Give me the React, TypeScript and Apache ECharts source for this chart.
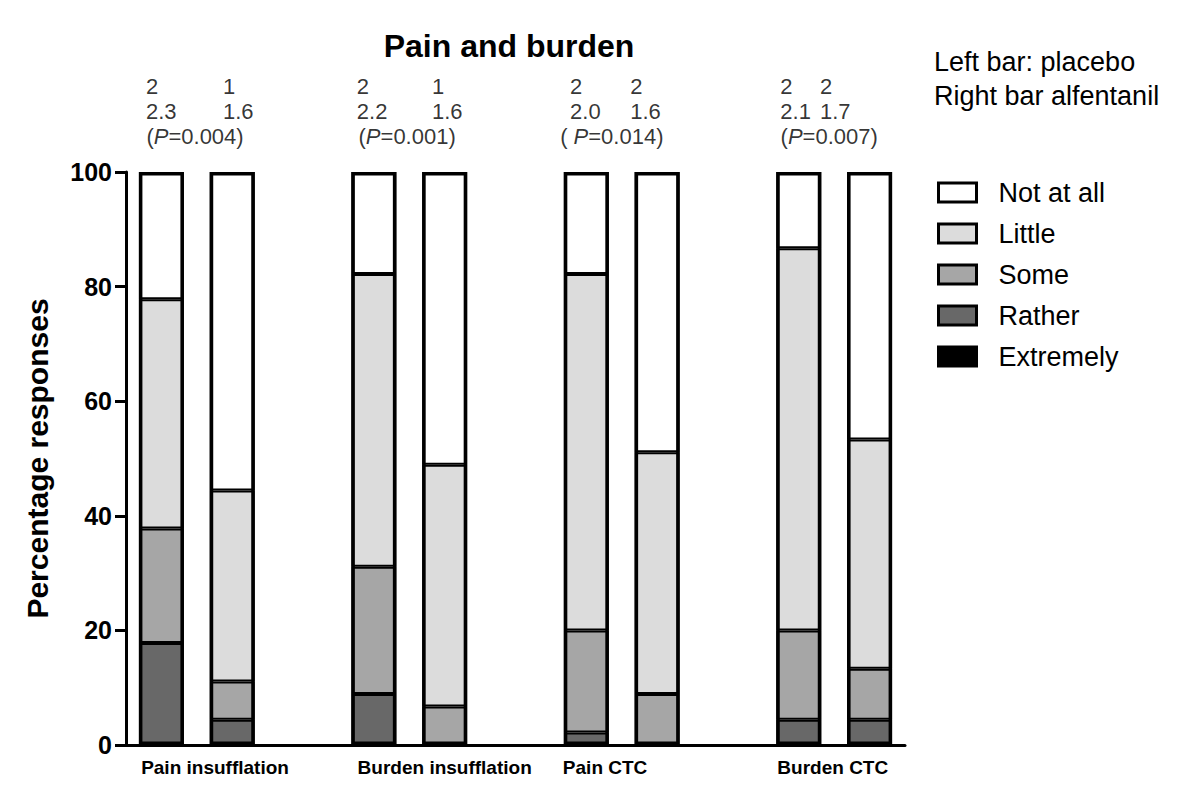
import React, { useEffect, useRef } from 'react';
import * as echarts from 'echarts';

// ---- Data ----
const groupLabels = ['Pain insufflation', 'Burden insufflation', 'Pain CTC', 'Burden CTC'];
const slotCategories = [
  'Pain insufflation placebo', 'Pain insufflation alfentanil', '',
  'Burden insufflation placebo', 'Burden insufflation alfentanil', ' ',
  'Pain CTC placebo', 'Pain CTC alfentanil', '  ',
  'Burden CTC placebo', 'Burden CTC alfentanil',
];
const barSlots = [0, 1, 3, 4, 6, 7, 9, 10]; // slot of each bar (placebo / alfentanil per group)
const extremely = [0, 0, 0, 0, 0, 0, 0, 0];
const rather = [17.8, 4.4, 8.9, 0, 2.2, 0, 4.4, 4.4];
const some = [20.0, 6.7, 22.2, 6.7, 17.8, 8.9, 15.6, 8.9];
const little = [40.0, 33.3, 51.1, 42.2, 62.2, 42.2, 66.7, 40.0];
const notAtAll = [22.2, 55.6, 17.8, 51.1, 17.8, 48.9, 13.3, 46.7];
const medians = ['2', '1', '2', '1', '2', '2', '2', '2'];
const means = ['2.3', '1.6', '2.2', '1.6', '2.0', '1.6', '2.1', '1.7'];
const pValues = ['0.004', '0.001', '0.014', '0.007'];
const pOpen = ['(', '(', '( ', '('];
const yTicks = [0, 20, 40, 60, 80, 100];

// ---- Layout (slot units) ----
const groupLabelPos = [0.757, 4.0, 6.265, 9.48];
const statLabelX = [-0.218, 0.87, 2.76, 3.82, 5.77, 6.62, 8.74, 9.3];
const pLabelX = [0.475, 3.47, 6.36, 9.43];

const FONT = 'Liberation Sans, Arial, Helvetica, sans-serif';
const STAT_FONT = 22;

const seriesDefs = [
  { name: 'Extremely', values: extremely, color: '#000000' },
  { name: 'Rather', values: rather, color: '#686868' },
  { name: 'Some', values: some, color: '#a6a6a6' },
  { name: 'Little', values: little, color: '#dcdcdc' },
  { name: 'Not at all', values: notAtAll, color: '#ffffff' },
];

function toSlots(values: number[]) {
  const out: any[] = slotCategories.map(() => '-');
  values.forEach((v, i) => {
    out[barSlots[i]] = v;
  });
  return out;
}

const totals = extremely.map((_, i) => seriesDefs.reduce((acc, s) => acc + s.values[i], 0));

function textScatter(xs: number[], offsetY: number, align: string, formatter: any, rich?: any) {
  return {
    type: 'scatter',
    xAxisIndex: 1,
    symbolSize: 0,
    silent: true,
    clip: false,
    data: xs.map((x) => [x, 100]),
    label: {
      show: true,
      position: [0, offsetY],
      align,
      verticalAlign: 'middle',
      fontFamily: FONT,
      fontSize: STAT_FONT,
      lineHeight: 22,
      color: '#000',
      formatter,
      rich,
    },
  };
}

export default function App() {
  const ref = useRef<HTMLDivElement>(null);
  useEffect(() => {
    if (!ref.current) return;
    const chart = echarts.init(ref.current, null, { renderer: 'svg' });
    const barSeries: any[] = seriesDefs.map((s) => ({
      type: 'bar',
      name: s.name,
      stack: 'total',
      barWidth: 45,
      barGap: '-100%',
      data: toSlots(s.values),
      itemStyle: { color: s.color, borderColor: '#000', borderWidth: 2 },
      emphasis: { disabled: true },
    }));
    barSeries.push({
      type: 'bar',
      name: 'outline',
      stack: 'outline',
      barWidth: 45,
      barGap: '-100%',
      z: 3,
      silent: true,
      data: toSlots(totals),
      itemStyle: { color: 'rgba(0,0,0,0)', borderColor: '#000', borderWidth: 3.5 },
      emphasis: { disabled: true },
    });
    const option: any = {
      animation: false,
      backgroundColor: '#ffffff',
      grid: { left: 126, right: 295, top: 172, bottom: 51, containLabel: false },
      legend: {
        data: ['Not at all', 'Little', 'Some', 'Rather', 'Extremely'],
        orient: 'vertical',
        left: 932,
        top: 174,
        itemWidth: 38,
        itemHeight: 19,
        itemGap: 14,
        icon: 'rect',
        selectedMode: false,
        itemStyle: { borderColor: '#000', borderWidth: 3 },
        textStyle: {
          fontFamily: FONT,
          fontSize: 27,
          lineHeight: 27,
          color: '#000',
          padding: [0, 0, 0, 17],
        },
      },
      xAxis: [
        {
          type: 'category',
          data: slotCategories,
          axisTick: { show: false },
          axisLabel: { show: false },
          splitLine: { show: false },
          axisLine: { show: true, onZero: false, lineStyle: { color: '#000', width: 3 } },
        },
        {
          type: 'value',
          position: 'bottom',
          min: -0.5,
          max: 10.5,
          splitLine: { show: false },
          axisTick: { show: false },
          axisLine: { show: false, onZero: false },
          axisLabel: {
            show: true,
            customValues: groupLabelPos,
            formatter: (v: number) => {
              let best = 0;
              groupLabelPos.forEach((p, i) => {
                if (Math.abs(p - v) < Math.abs(groupLabelPos[best] - v)) best = i;
              });
              return groupLabels[best];
            },
            fontFamily: FONT,
            fontSize: 19,
            fontWeight: 'bold',
            color: '#000',
            margin: 13,
          },
        },
      ],
      yAxis: {
        type: 'value',
        min: 0,
        max: 100,
        interval: 20,
        name: 'Percentage responses',
        nameLocation: 'middle',
        nameGap: 74,
        nameTextStyle: { fontFamily: FONT, fontSize: 30, fontWeight: 'bold', color: '#000' },
        splitLine: { show: false },
        axisLine: { show: true, onZero: false, lineStyle: { color: '#000', width: 3 } },
        axisTick: { show: true, length: 11, lineStyle: { color: '#000', width: 3 } },
        axisLabel: {
          fontFamily: FONT,
          fontSize: 25,
          fontWeight: 'bold',
          color: '#000',
          margin: 14,
          formatter: (v: number) => (yTicks.includes(v) ? String(v) : ''),
        },
      },
      graphic: [
        {
          type: 'text',
          x: 509,
          y: 46,
          style: {
            text: 'Pain and burden',
            fontFamily: FONT,
            fontSize: 32,
            fontWeight: 'bold',
            fill: '#000',
            align: 'center',
            verticalAlign: 'middle',
          },
        },
        {
          type: 'text',
          x: 934,
          y: 62,
          style: {
            text: 'Left bar: placebo',
            fontFamily: FONT,
            fontSize: 27,
            fill: '#000',
            align: 'left',
            verticalAlign: 'middle',
          },
        },
        {
          type: 'text',
          x: 934,
          y: 96,
          style: {
            text: 'Right bar alfentanil',
            fontFamily: FONT,
            fontSize: 27,
            fill: '#000',
            align: 'left',
            verticalAlign: 'middle',
          },
        },
      ],
      series: [
        ...barSeries,
        textScatter(statLabelX, -86, 'left', (p: any) => medians[p.dataIndex]),
        textScatter(statLabelX, -61, 'left', (p: any) => means[p.dataIndex]),
        textScatter(
          pLabelX,
          -36,
          'center',
          (p: any) => '{n|' + pOpen[p.dataIndex] + '}{i|P}{n|=' + pValues[p.dataIndex] + ')}',
          {
            n: { fontFamily: FONT, fontSize: STAT_FONT, lineHeight: 22, color: '#000' },
            i: { fontFamily: FONT, fontSize: STAT_FONT, lineHeight: 22, fontStyle: 'italic', color: '#000' },
          }
        ),
      ],
    };
    chart.setOption(option);
    return () => chart.dispose();
  }, []);
  return (
    <div
      ref={ref}
      style={{ position: 'absolute', left: 0, top: 0, width: 1200, height: 796, background: '#fff' }}
    />
  );
}
